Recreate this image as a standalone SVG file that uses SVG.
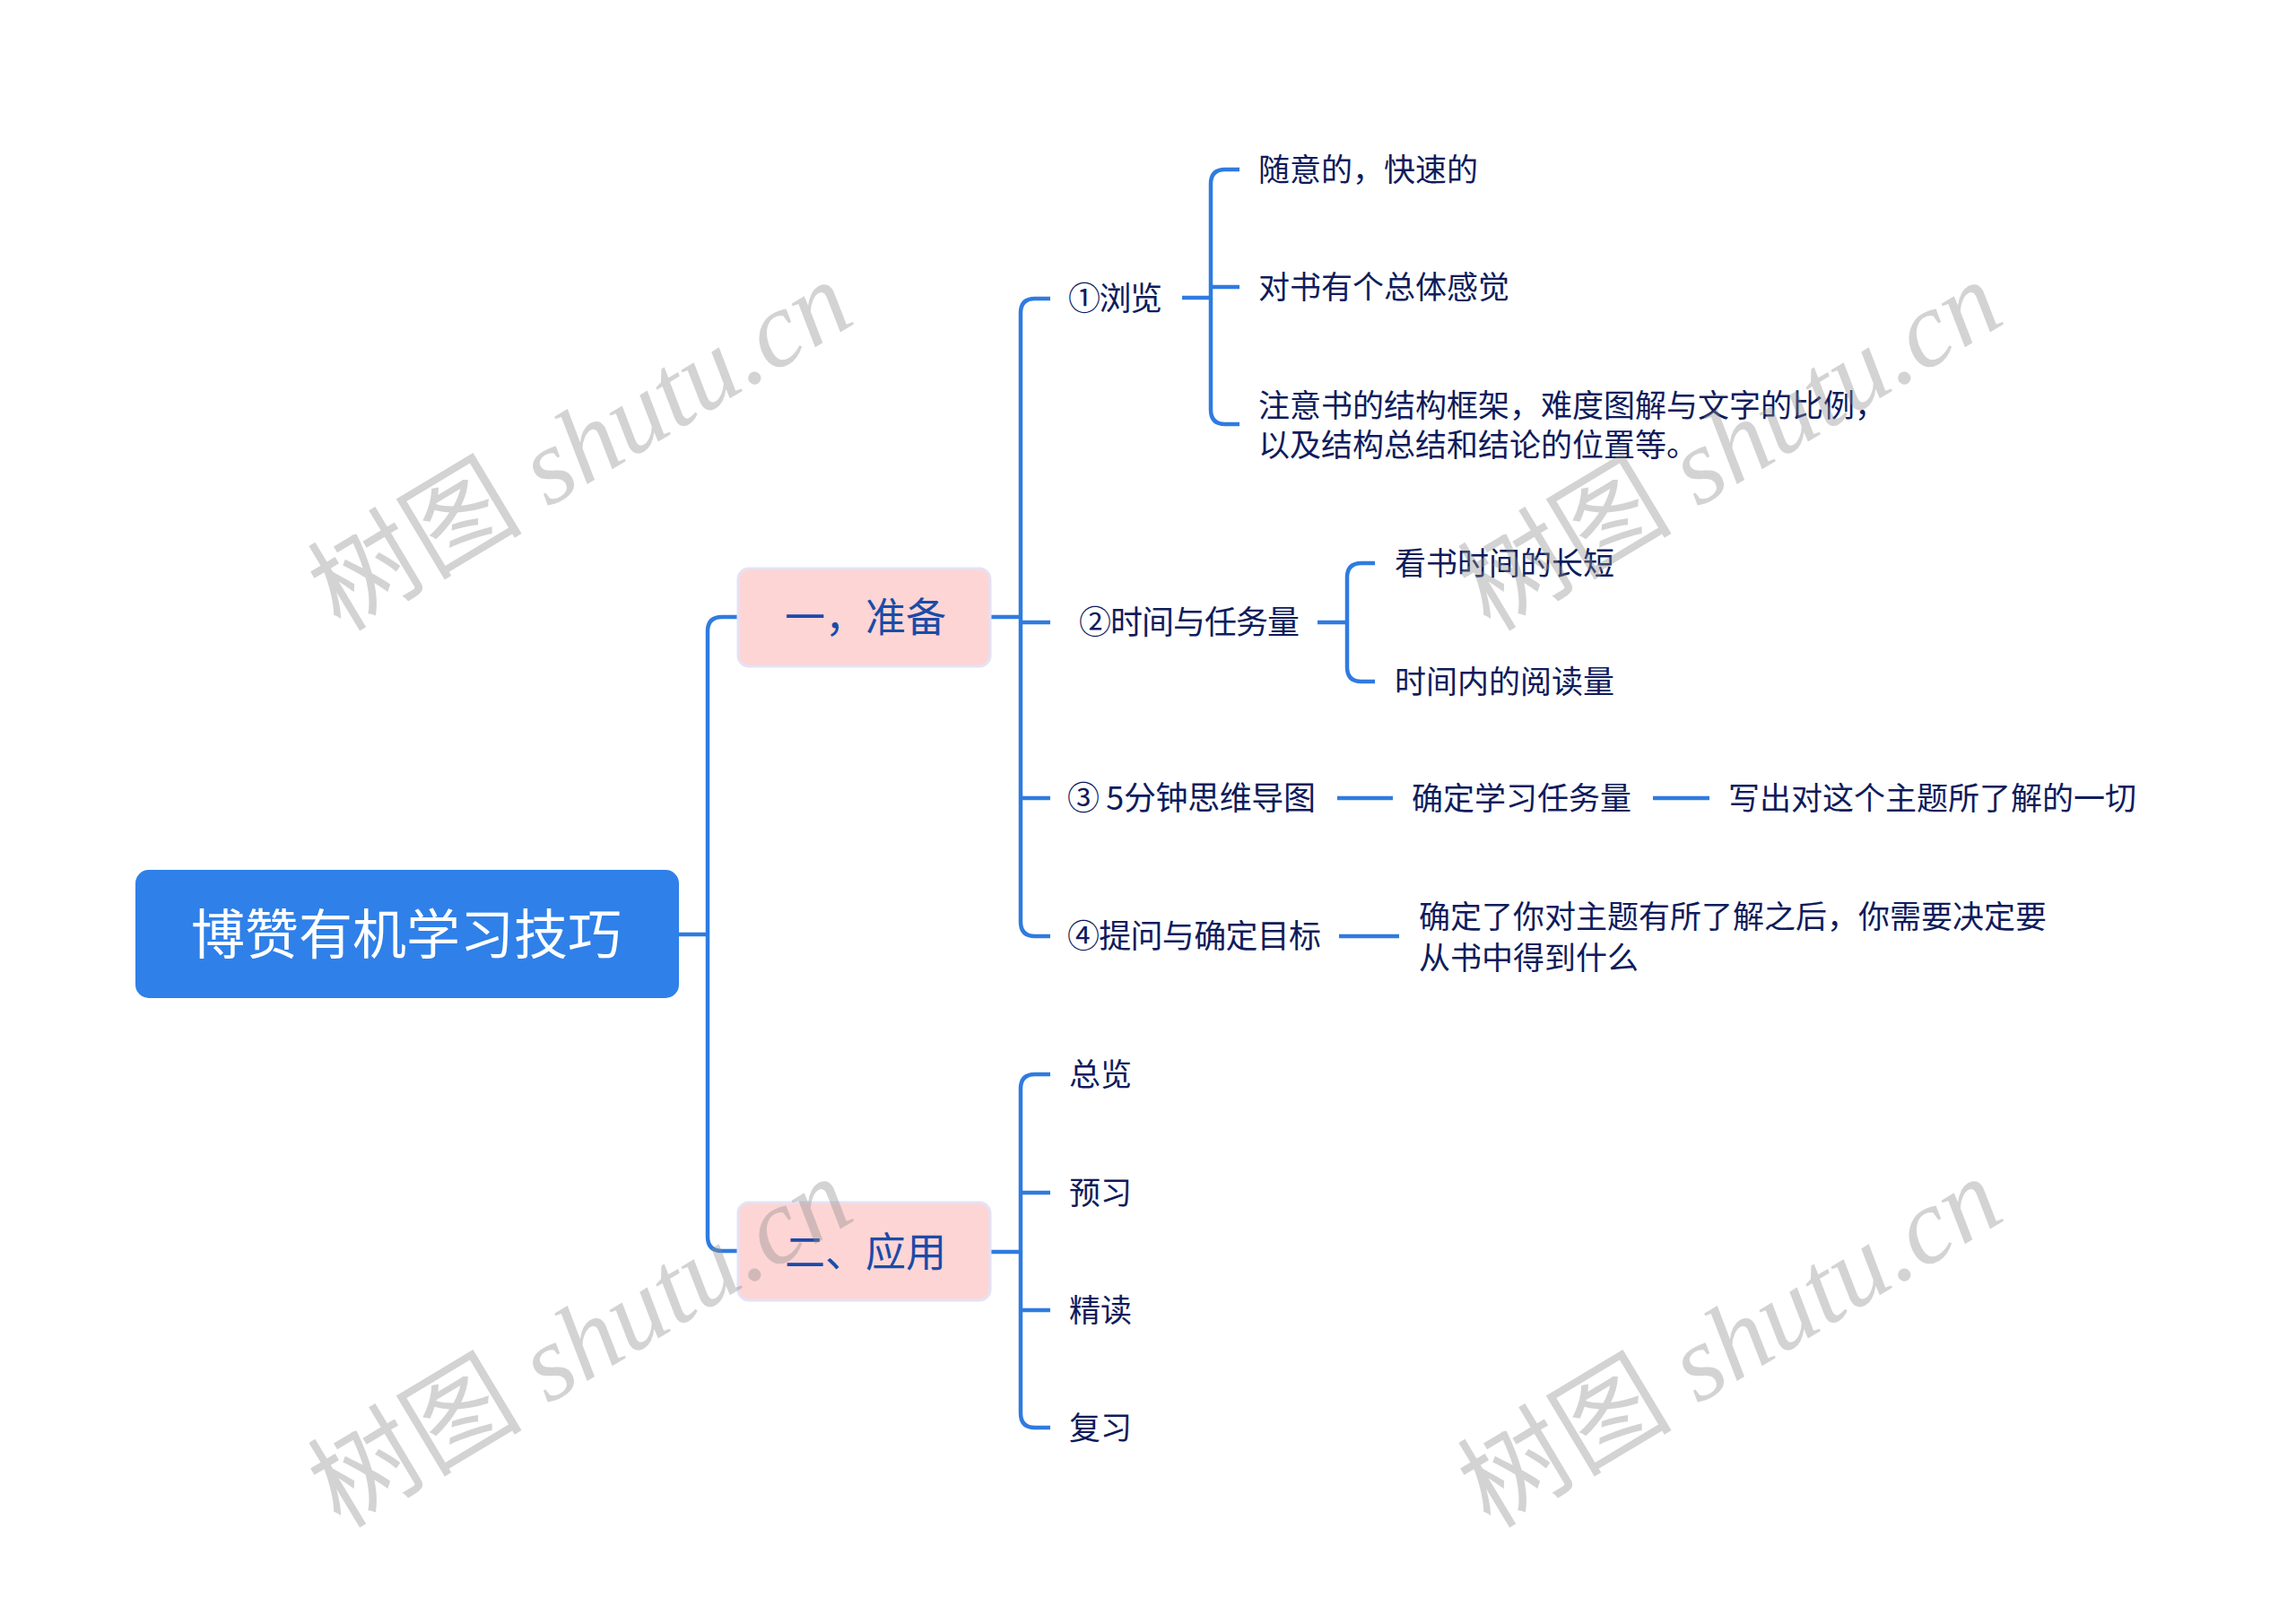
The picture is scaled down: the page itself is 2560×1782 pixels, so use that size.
<svg xmlns="http://www.w3.org/2000/svg" width="2560" height="1782" viewBox="0 0 2560 1782">
<style>
.ln{fill:none;stroke:#2F7BE0;stroke-width:4.5;stroke-linecap:butt;stroke-linejoin:round}
.t{font-family:"Noto Sans CJK SC","Microsoft YaHei",sans-serif;fill:#0F1C5C;font-size:35px}
.l2{font-family:"Noto Sans CJK SC","Microsoft YaHei",sans-serif;fill:#0F1C5C;font-size:36px}
.bx{fill:#FDD5D5;stroke:#E3E2F6;stroke-width:3}
.bt{font-family:"Noto Sans CJK SC","Microsoft YaHei",sans-serif;fill:#1B4BA8;font-size:45px}
.wm{font-size:120px;fill:#8C8C8C;fill-opacity:0.38}
.wc{font-family:"Noto Sans CJK SC",sans-serif}
.we{font-family:"Liberation Serif",serif;font-style:italic}
</style>
<rect width="2560" height="1782" fill="#FFFFFF"/>
<g id="connectors">
<path class="ln" d="M757,1042 H789"/>
<path class="ln" d="M822,688 H805 Q789,688 789,704 V1379 Q789,1395 805,1395 H822"/>
<path class="ln" d="M1105,688 H1138"/>
<path class="ln" d="M1171,333 H1154 Q1138,333 1138,349 V1028 Q1138,1044 1154,1044 H1171"/>
<path class="ln" d="M1138,694 H1171"/>
<path class="ln" d="M1138,890 H1171"/>
<path class="ln" d="M1318,332 H1350"/>
<path class="ln" d="M1382,189 H1366 Q1350,189 1350,205 V457 Q1350,473 1366,473 H1382"/>
<path class="ln" d="M1350,320 H1382"/>
<path class="ln" d="M1469,694 H1502"/>
<path class="ln" d="M1533,628 H1518 Q1502,628 1502,644 V744 Q1502,760 1518,760 H1533"/>
<path class="ln" d="M1491,890 H1553"/>
<path class="ln" d="M1843,890 H1906"/>
<path class="ln" d="M1493,1044 H1560"/>
<path class="ln" d="M1105,1396 H1138"/>
<path class="ln" d="M1171,1198 H1154 Q1138,1198 1138,1214 V1576 Q1138,1592 1154,1592 H1171"/>
<path class="ln" d="M1138,1330 H1171"/>
<path class="ln" d="M1138,1461 H1171"/>
</g>
<g id="root">
<rect x="151" y="970" width="606" height="143" rx="15" fill="#2F80E8"/>
<text x="213" y="1064" font-family="Noto Sans CJK SC, sans-serif" font-size="60" fill="#FFFFFF">博赞有机学习技巧</text>
</g>
<g id="n-prep">
<rect class="bx" x="823" y="634" width="281" height="109" rx="12"/>
<text class="bt" x="875" y="705">一，准备</text>
</g>
<g id="n-apply">
<rect class="bx" x="823" y="1341" width="281" height="109" rx="12"/>
<text class="bt" x="875" y="1413">二、应用</text>
</g>
<g id="n1"><text class="l2" x="1191" y="346" textLength="105" lengthAdjust="spacing">①浏览</text></g>
<g id="n1a"><text class="t" x="1403" y="202">随意的，快速的</text></g>
<g id="n1b"><text class="t" x="1403" y="333">对书有个总体感觉</text></g>
<g id="n1c"><text class="t" x="1403" y="465">注意书的结构框架，难度图解与文字的比例，</text><text class="t" x="1403" y="509">以及结构总结和结论的位置等。</text></g>
<g id="n2"><text class="l2" x="1203" y="707" textLength="246" lengthAdjust="spacing">②时间与任务量</text></g>
<g id="n2a"><text class="t" x="1555" y="641">看书时间的长短</text></g>
<g id="n2b"><text class="t" x="1555" y="773">时间内的阅读量</text></g>
<g id="n3"><text class="l2" x="1190" y="903" textLength="277" lengthAdjust="spacing">③ 5分钟思维导图</text></g>
<g id="n3a"><text class="t" x="1574" y="903">确定学习任务量</text></g>
<g id="n3b"><text class="t" x="1927" y="903">写出对这个主题所了解的一切</text></g>
<g id="n4"><text class="l2" x="1190" y="1057" textLength="283" lengthAdjust="spacing">④提问与确定目标</text></g>
<g id="n4a"><text class="t" x="1582" y="1035">确定了你对主题有所了解之后，你需要决定要</text><text class="t" x="1582" y="1081">从书中得到什么</text></g>
<g id="m1"><text class="t" x="1192" y="1211">总览</text></g>
<g id="m2"><text class="t" x="1192" y="1343">预习</text></g>
<g id="m3"><text class="t" x="1192" y="1474">精读</text></g>
<g id="m4"><text class="t" x="1192" y="1605">复习</text></g>
<g id="watermarks" class="wm" text-anchor="middle">
<text transform="translate(668,532) rotate(-31)"><tspan class="wc">树图</tspan><tspan class="we"> shutu.cn</tspan></text>
<text transform="translate(1950,532) rotate(-31)"><tspan class="wc">树图</tspan><tspan class="we"> shutu.cn</tspan></text>
<text transform="translate(668,1532) rotate(-31)"><tspan class="wc">树图</tspan><tspan class="we"> shutu.cn</tspan></text>
<text transform="translate(1950,1532) rotate(-31)"><tspan class="wc">树图</tspan><tspan class="we"> shutu.cn</tspan></text>
</g>
</svg>
